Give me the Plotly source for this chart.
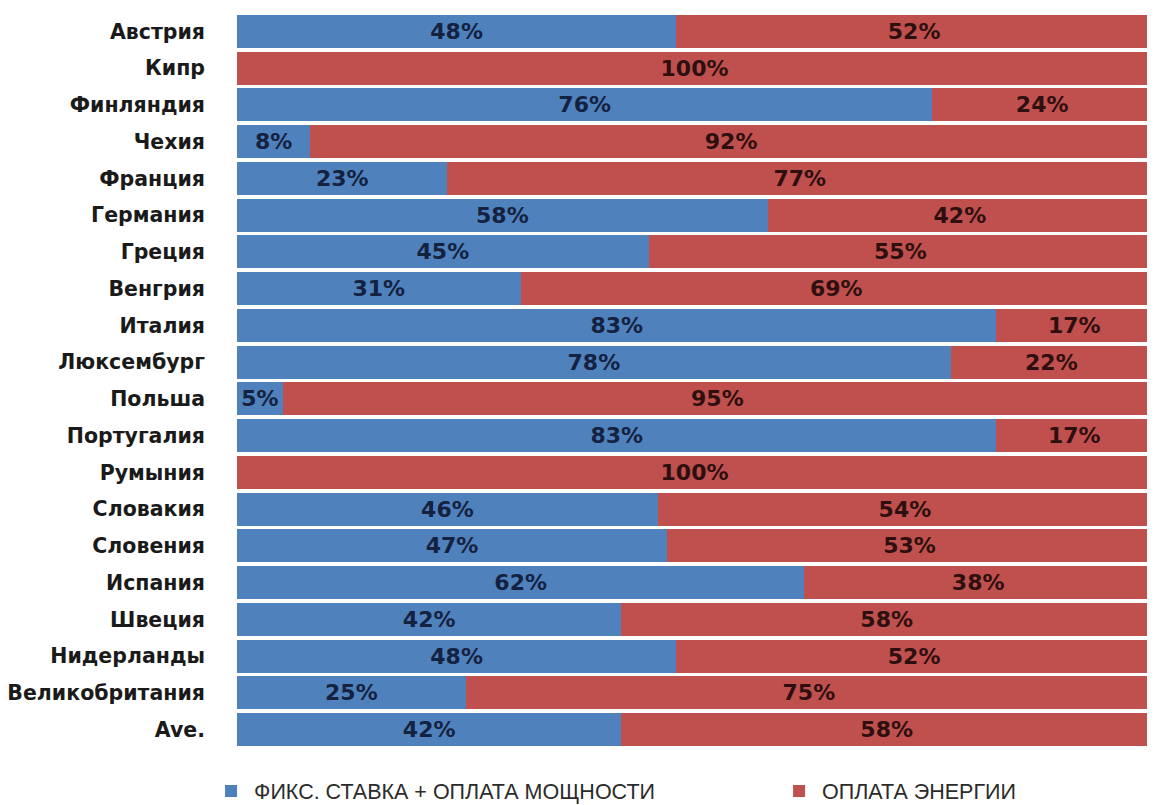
import plotly.graph_objects as go

categories = ["Австрия", "Кипр", "Финляндия", "Чехия", "Франция", "Германия", "Греция",
              "Венгрия", "Италия", "Люксембург", "Польша", "Португалия", "Румыния",
              "Словакия", "Словения", "Испания", "Швеция", "Нидерланды",
              "Великобритания", "Ave."]
fixed_share = [48, 0, 76, 8, 23, 58, 45, 31, 83, 78, 5, 83, 0, 46, 47, 62, 42, 48, 25, 42]
energy_share = [52, 100, 24, 92, 77, 42, 55, 69, 17, 22, 95, 17, 100, 54, 53, 38, 58, 52, 75, 58]
series_names = ["ФИКС. СТАВКА + ОПЛАТА МОЩНОСТИ", "ОПЛАТА ЭНЕРГИИ"]

BLUE = "#4f81bd"
RED = "#c0504d"


def labels(vals):
    return [f"{v}%" if v > 0 else "" for v in vals]


fig = go.Figure()
fig.add_trace(go.Bar(
    y=categories, x=fixed_share, orientation="h", name=series_names[0],
    marker=dict(color=BLUE, line=dict(width=0)),
    text=labels(fixed_share), textposition="inside", insidetextanchor="middle",
    textangle=0, constraintext="none",
    insidetextfont=dict(family="DejaVu Sans", size=22, color="#15223f", weight="bold"),
    hoverinfo="skip", legend="legend",
))
fig.add_trace(go.Bar(
    y=categories, x=energy_share, orientation="h", name=series_names[1],
    marker=dict(color=RED, line=dict(width=0)),
    text=labels(energy_share), textposition="inside", insidetextanchor="middle",
    textangle=0, constraintext="none",
    insidetextfont=dict(family="DejaVu Sans", size=22, color="#2e0f0f", weight="bold"),
    hoverinfo="skip", legend="legend2",
))

legend_font = dict(family="Liberation Sans", size=21.5, color="#2b2b2b")

fig.update_layout(
    width=1155, height=805,
    barmode="stack", bargap=0.1,
    paper_bgcolor="white", plot_bgcolor="white",
    margin=dict(l=229, r=11, t=5, b=65, autoexpand=False),
    showlegend=True,
    legend=dict(
        orientation="h", xref="container", yref="container",
        x=0.1732, xanchor="left", y=0.0273, yanchor="middle",
        itemwidth=36, font=legend_font, bgcolor="rgba(0,0,0,0)",
    ),
    legend2=dict(
        orientation="h", xref="container", yref="container",
        x=0.665, xanchor="left", y=0.0273, yanchor="middle",
        itemwidth=36, font=legend_font, bgcolor="rgba(0,0,0,0)",
    ),
    xaxis=dict(range=[0, 100], showgrid=False, zeroline=False, showticklabels=False,
               ticks="", fixedrange=True),
    yaxis=dict(autorange="reversed", showgrid=False, zeroline=False, ticks="",
               ticklabelstandoff=31,
               tickfont=dict(family="DejaVu Sans", size=20.5, color="#1a1a1a", weight="bold")),
)

fig.write_html("out.html")
